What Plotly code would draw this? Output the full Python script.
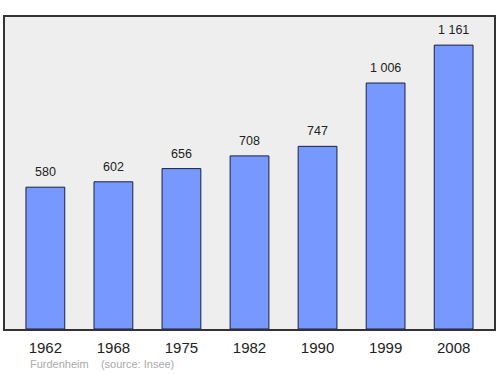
import plotly.graph_objects as go

years = ["1962", "1968", "1975", "1982", "1990", "1999", "2008"]
population = [580, 602, 656, 708, 747, 1006, 1161]
labels = ["580", "602", "656", "708", "747", "1 006", "1 161"]

FONT = "Liberation Sans"

fig = go.Figure()
fig.add_trace(go.Bar(
    x=years, y=population,
    width=0.57,
    marker=dict(color="#7799ff", line=dict(color="#1a2040", width=1)),
    hoverinfo="skip",
))

annotations = [
    dict(x=i, y=v, text=lab, xref="x", yref="y", showarrow=False,
         yanchor="middle", yshift=15,
         font=dict(family=FONT, size=12.5, color="#222222"))
    for i, (v, lab) in enumerate(zip(population, labels))
]
annotations.append(
    dict(text="Furdenheim&nbsp;&nbsp;&nbsp;&nbsp;(source: Insee)", xref="paper", yref="paper",
         x=23/491, y=-0.113, xanchor="left", yanchor="middle", showarrow=False,
         font=dict(family=FONT, size=11, color="#aaaaaa"))
)

fig.update_layout(
    width=500, height=374,
    margin=dict(l=5, r=4, t=17, b=45),
    paper_bgcolor="white",
    plot_bgcolor="#eeeeee",
    showlegend=False,
    xaxis=dict(
        type="category", range=[-0.593, 6.593],
        showline=True, mirror=True, linecolor="#333333", linewidth=1.5,
        ticks="outside", ticklen=4, tickcolor="rgba(0,0,0,0)", showgrid=False,
        tickfont=dict(family=FONT, size=15, color="#222222"),
    ),
    yaxis=dict(
        range=[0, 1276], showticklabels=False, showgrid=False, zeroline=False,
        showline=True, mirror=True, linecolor="#333333", linewidth=1.5, ticks="",
    ),
    annotations=annotations,
)

fig.write_html("out.html")
